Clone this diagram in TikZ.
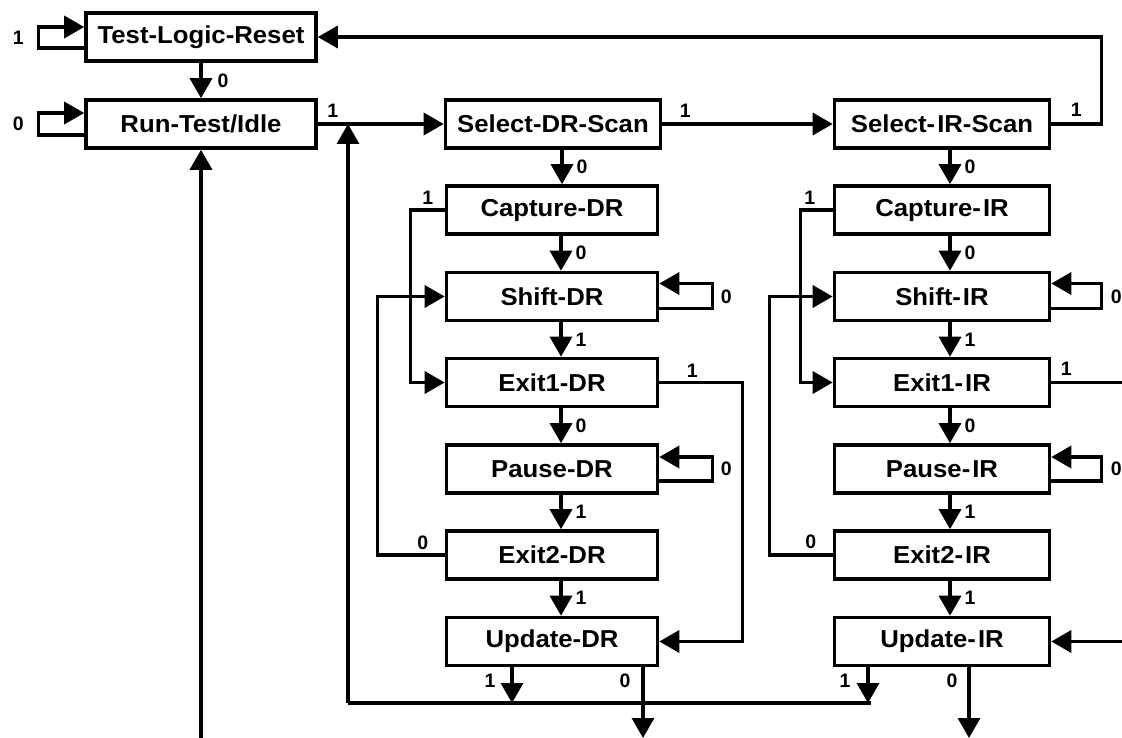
\documentclass[tikz,border=0pt]{standalone}
\usepackage{fontspec}
\setmainfont{Liberation Sans}
\newfontfamily\boxfont{Liberation Sans}[FakeStretch=1.05]
\usetikzlibrary{arrows.meta}
\begin{document}
\begin{tikzpicture}[x=1pt,y=-1pt,
  box/.style={draw,line width=3.6pt,minimum height=48pt,inner sep=0pt,
    font=\boxfont\bfseries\fontsize{24.5}{28}\selectfont},
  dbox/.style={box,minimum width=211pt},
  ibox/.style={box,minimum width=215pt},
  conn/.style={line width=3.4pt,line join=miter},
  arr/.style={conn,-{Triangle[length=20pt,width=22pt]}},
  lbl/.style={font=\bfseries\fontsize{19.5}{22}\selectfont,inner sep=0pt}]
\useasboundingbox (0,0) rectangle (1122,738);
% states
\node[box,minimum width=230pt] (tlr) at (201,37) {Test-Logic-Reset};
\node[box,minimum width=230pt] (rti) at (201,124) {Run-Test/Idle};
\node[ibox] (sdr) at (553,124) {Select-DR-Scan};
\node[dbox] (cdr) at (552,210) {Capture-DR};
\node[dbox] (shdr) at (552,296.5) {Shift-DR};
\node[dbox] (e1dr) at (552,382.5) {Exit1-DR};
\node[dbox] (pdr) at (552,469) {Pause-DR};
\node[dbox] (e2dr) at (552,555) {Exit2-DR};
\node[dbox] (udr) at (552,641.5) {Update-DR};
\node[ibox] (sir) at (942,124) {Select-\kern2pt IR-Scan};
\node[ibox] (cir) at (942,210) {Capture-\kern2pt IR};
\node[ibox] (shir) at (942,296.5) {Shift-\kern2pt IR};
\node[ibox] (e1ir) at (942,382.5) {Exit1-\kern2pt IR};
\node[ibox] (pir) at (942,469) {Pause-\kern2pt IR};
\node[ibox] (e2ir) at (942,555) {Exit2-\kern2pt IR};
\node[ibox] (uir) at (942,641.5) {Update-\kern2pt IR};
% helper coordinates
\coordinate (j) at (348,124);
\coordinate (bl) at (348,703);
\coordinate (br) at (871,703);
\coordinate (redge) at (1126,0);
\coordinate (bot) at (0,738);
% left loops
\draw[arr] ([yshift=-11pt]tlr.west) -- ++(-46,0) |- ([yshift=10pt]tlr.west);
\node[lbl] at ([xshift=-66pt,yshift=-1pt]tlr.west) {1};
\draw[arr] ([yshift=-11pt]rti.west) -- ++(-46,0) |- ([yshift=11pt]rti.west);
\node[lbl] at ([xshift=-66pt]rti.west) {0};
% TLR -> RTI
\draw[arr] (tlr.south) -- node[lbl,right=15pt]{0} (rti.north);
% RTI -> Select-DR
\draw[arr] (rti.east) -- (sdr.west);
\node[lbl] at ([xshift=15pt,yshift=13pt]rti.east) {1};
% return bus
\draw[conn] (br) -- (bl);
\draw[arr] (bl) -- (j);
% bottom arrow into RTI
\draw[arr] (rti.south |- bot) -- (rti.south);
% Select-DR -> Select-IR
\draw[arr] (sdr.east) -- (sir.west);
\node[lbl] at ([xshift=23pt,yshift=13pt]sdr.east) {1};
% Select-IR -> TLR
\draw[arr] (sir.east) -- ++(50,0) |- (tlr.east);
\node[lbl] at ([xshift=25pt,yshift=14pt]sir.east) {1};
% DR column verticals
\draw[arr] ([xshift=9pt]sdr.south) -- node[lbl,right=13pt]{0} ([xshift=9pt]sdr.south |- cdr.north);
\draw[arr] ([xshift=9pt]cdr.south) -- node[lbl,right=13pt]{0} ([xshift=9pt]shdr.north);
\draw[arr] ([xshift=9pt]shdr.south) -- node[lbl,right=13pt]{1} ([xshift=9pt]e1dr.north);
\draw[arr] ([xshift=9pt]e1dr.south) -- node[lbl,right=13pt]{0} ([xshift=9pt]pdr.north);
\draw[arr] ([xshift=9pt]pdr.south) -- node[lbl,right=13pt]{1} ([xshift=9pt]e2dr.north);
\draw[arr] ([xshift=9pt]e2dr.south) -- node[lbl,right=13pt]{1} ([xshift=9pt]udr.north);
% IR column verticals
\draw[arr] ([xshift=8pt]sir.south) -- node[lbl,right=13pt]{0} ([xshift=8pt]cir.north);
\draw[arr] ([xshift=8pt]cir.south) -- node[lbl,right=13pt]{0} ([xshift=8pt]shir.north);
\draw[arr] ([xshift=8pt]shir.south) -- node[lbl,right=13pt]{1} ([xshift=8pt]e1ir.north);
\draw[arr] ([xshift=8pt]e1ir.south) -- node[lbl,right=13pt]{0} ([xshift=8pt]pir.north);
\draw[arr] ([xshift=8pt]pir.south) -- node[lbl,right=13pt]{1} ([xshift=8pt]e2ir.north);
\draw[arr] ([xshift=8pt]e2ir.south) -- node[lbl,right=13pt]{1} ([xshift=8pt]uir.north);
% self loops right
\draw[arr] ([yshift=-12pt]shdr.east) -- ++(53,0) |- ([yshift=13pt]shdr.east);
\node[lbl] at ([xshift=67pt]shdr.east) {0};
\draw[arr] ([yshift=-12pt]pdr.east) -- ++(53,0) |- ([yshift=12pt]pdr.east);
\node[lbl] at ([xshift=67pt]pdr.east) {0};
\draw[arr] ([yshift=-12pt]shir.east) -- ++(50,0) |- ([yshift=13pt]shir.east);
\node[lbl] at ([xshift=65pt]shir.east) {0};
\draw[arr] ([yshift=-12pt]pir.east) -- ++(50,0) |- ([yshift=12pt]pir.east);
\node[lbl] at ([xshift=65pt]pir.east) {0};
% Capture -> Exit1 (1)
\draw[arr] (cdr.west) -- ++(-34,0) |- (e1dr.west);
\node[lbl] at ([xshift=-17pt,yshift=12pt]cdr.west) {1};
\draw[arr] (cir.west) -- ++(-32,0) |- (e1ir.west);
\node[lbl] at ([xshift=-23pt,yshift=12pt]cir.west) {1};
% Exit2 -> Shift (0)
\draw[arr] (e2dr.west) -- ++(-67,0) |- (shdr.west);
\node[lbl] at ([xshift=-22pt,yshift=12pt]e2dr.west) {0};
\draw[arr] (e2ir.west) -- ++(-63,0) |- (shir.west);
\node[lbl] at ([xshift=-22pt,yshift=13pt]e2ir.west) {0};
% Exit1 -> Update (1)
\draw[arr] (e1dr.east) -- ++(83,0) |- (udr.east);
\node[lbl] at ([xshift=33pt,yshift=12pt]e1dr.east) {1};
\draw[conn] (e1ir.east) -- (e1ir.east -| redge);
\node[lbl] at ([xshift=15pt,yshift=14pt]e1ir.east) {1};
\draw[arr] (uir.east -| redge) -- (uir.east);
% Update outputs
\draw[arr] ([xshift=-40pt]udr.south) -- ([xshift=-40pt]udr.south |- bl);
\node[lbl] at ([xshift=-62pt,yshift=-13pt]udr.south) {1};
\draw[arr] ([xshift=91pt]udr.south) -- ([xshift=91pt]udr.south |- bot);
\node[lbl] at ([xshift=73pt,yshift=-13pt]udr.south) {0};
\draw[arr] ([xshift=-74pt]uir.south) -- ([xshift=-74pt]uir.south |- bl);
\node[lbl] at ([xshift=-97pt,yshift=-13pt]uir.south) {1};
\draw[arr] ([xshift=27pt]uir.south) -- ([xshift=27pt]uir.south |- bot);
\node[lbl] at ([xshift=10pt,yshift=-13pt]uir.south) {0};
\end{tikzpicture}
\end{document}
